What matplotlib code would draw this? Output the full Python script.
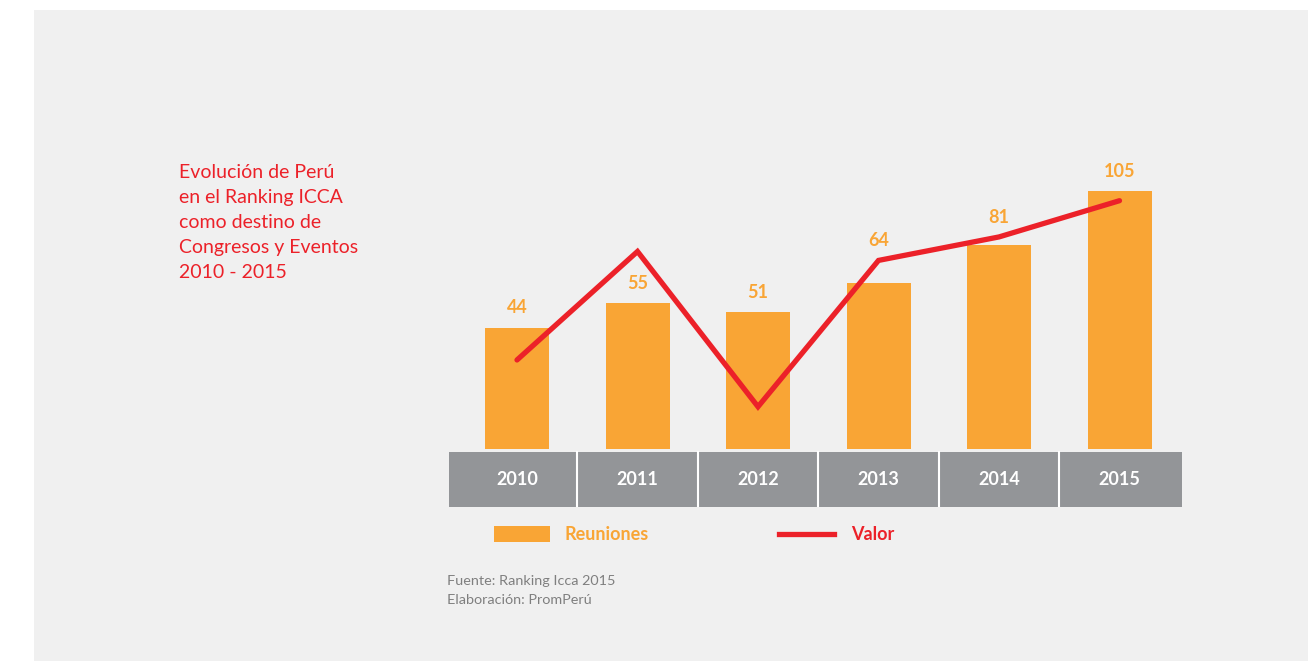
import matplotlib.pyplot as plt
from matplotlib.patches import Rectangle
from matplotlib.lines import Line2D

# data
years = ['2010', '2011', '2012', '2013', '2014', '2015']
reuniones = [44, 55, 51, 64, 81, 105]
valor = [29.5, 78, 8.6, 74, 84.5, 100.7]
BASE = -10.3  # bars in the original start below zero

ORANGE = '#F9A535'
RED = '#EC2129'
GRAY = '#939598'
BG = '#F0F0F0'

plt.rcParams['font.family'] = ['Lato', 'DejaVu Sans']

W, H = 1308, 661
fig = plt.figure(figsize=(W / 100, H / 100), dpi=100)
fig.patch.set_facecolor('white')

# light gray panel (behind everything)
fig.patches.append(Rectangle((34 / W, 0), 1 - 34 / W, (H - 10) / H,
                             transform=fig.transFigure, facecolor=BG,
                             edgecolor='none', zorder=-5))

# axes placed in pixel terms: x 449..1182, y 140..507
left, right, top, bottom = 449, 1182, 140, 507
ax = fig.add_axes([left / W, (H - bottom) / H, (right - left) / W, (bottom - top) / H])
ax.set_facecolor('none')
ax.axis('off')

x = list(range(len(years)))
pitch = 120.5
scale = 2.237
zero_px = 449 + BASE * scale  # pixel row of value 0
ax.set_xlim((left - 517) / pitch, (right - 517) / pitch)
ax.set_ylim(-(bottom - zero_px) / scale, (zero_px - top) / scale)

ax.bar(x, [v - BASE for v in reuniones], bottom=BASE, width=64 / pitch,
       color=ORANGE, zorder=2)
for xi, v, r in zip(x, reuniones, valor):
    # lift the label over the line when the line runs just above the bar
    base = max(v, r) if 0 < r - v < 15 else v
    ax.text(xi, base + 5, str(v), ha='center', va='bottom', color=ORANGE,
            fontsize=13, fontweight='bold', zorder=4)

ax.plot(x, valor, color=RED, linewidth=3.8, solid_joinstyle='miter',
        solid_capstyle='round', zorder=3)

# year strip under the bars
y0, y1 = -(452 - zero_px) / scale, -(bottom - zero_px) / scale
xl, xr = ax.get_xlim()
ax.add_patch(Rectangle((xl, y1), xr - xl, y0 - y1, facecolor=GRAY,
                       edgecolor='none', zorder=2))
for xi in x[:-1]:
    ax.plot([xi + 0.5, xi + 0.5], [y1, y0], color='white', linewidth=1.5, zorder=3)
for xi, yr in zip(x, years):
    ax.text(xi, (y0 + y1) / 2, yr, ha='center', va='center', color='white',
            fontsize=13, fontweight='bold', zorder=4)

# legend
fig.patches.append(Rectangle((494 / W, (H - 542) / H), 56 / W, 16 / H,
                             transform=fig.transFigure, facecolor=ORANGE,
                             edgecolor='none'))
fig.text(564 / W, (H - 534) / H, 'Reuniones', color=ORANGE, fontsize=13,
         fontweight='bold', va='center', ha='left')
fig.lines.append(Line2D([779 / W, 834 / W], [(H - 534) / H] * 2,
                        transform=fig.transFigure, color=RED, linewidth=3.8))
fig.text(851 / W, (H - 534) / H, 'Valor', color=RED, fontsize=13,
         fontweight='bold', va='center', ha='left')

# title block
fig.text(179 / W, (H - 164) / H,
         'Evolución de Perú\nen el Ranking ICCA\ncomo destino de\nCongresos y Eventos\n2010 - 2015',
         color=RED, fontsize=14, linespacing=1.58, va='top', ha='left')

# source
fig.text(447 / W, (H - 575) / H, 'Fuente: Ranking Icca 2015\nElaboración: PromPerú',
         color='#7F7F7F', fontsize=10.4, linespacing=1.65, va='top', ha='left')

fig.savefig('out.png', dpi=100, facecolor=fig.get_facecolor())
